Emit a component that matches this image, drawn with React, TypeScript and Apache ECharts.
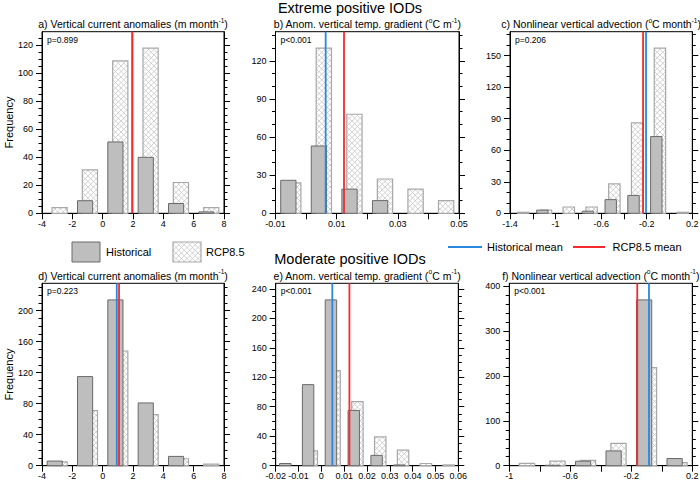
import { useEffect, useRef } from 'react';
import * as echarts from 'echarts';

// ---------------- data ----------------
const binsA = [-3, -1, 1, 3, 5, 7];
const histA = [0, 9, 51, 40, 7, 1];
const rcpA = [4, 31, 109, 118, 22, 4];
const meansA = [1.95, 1.96]; // [historical, rcp8.5]
const pA = 'p=0.899';

const binsB = [-0.005, 0.005, 0.015, 0.025, 0.035, 0.045];
const histB = [26, 53, 19, 10, 0, 0];
const rcpB = [24, 130, 78, 27, 19, 10];
const meansB = [0.0064, 0.0124];
const pB = 'p<0.001';

const binsC = [-1.3, -1.1, -0.9, -0.7, -0.5, -0.3, -0.1, 0.1];
const histC = [0, 3, 0, 2, 13, 17, 73, 0];
const rcpC = [1, 3, 6, 6, 28, 86, 157, 1];
const meansC = [-0.206, -0.232];
const pC = 'p=0.206';

const binsD = [-3, -1, 1, 3, 5, 7];
const histD = [6, 115, 214, 81, 12, 0];
const rcpD = [5, 71, 148, 66, 9, 2];
const meansD = [0.93, 1.08];
const pD = 'p=0.223';

const binsE = [-0.015, -0.005, 0.005, 0.015, 0.025, 0.035, 0.045, 0.055];
const histE = [3, 110, 225, 75, 14, 1, 0, 0];
const rcpE = [0, 20, 129, 87, 39, 21, 3, 1];
const meansE = [0.0048, 0.0123];
const pE = 'p<0.001';

const binsF = [-0.9, -0.7, -0.5, -0.3, -0.1, 0.1];
const histF = [0, 1, 10, 33, 370, 16];
const rcpF = [5, 10, 12, 50, 219, 7];
const meansF = [-0.084, -0.161];
const pF = 'p<0.001';

// axes: ranges and tick labels
const xRangeA = [-4, 8];
const xTicksA = [-4, -2, 0, 2, 4, 6, 8];
const xLabelsA = [-4, -2, 0, 2, 4, 6, 8];
const yMaxA = 129.8;
const yTicksA = [0, 20, 40, 60, 80, 100, 120];

const xRangeB = [-0.01, 0.05];
const xTicksB = [-0.01, 0, 0.01, 0.02, 0.03, 0.04, 0.05];
const xLabelsB = [-0.01, 0.01, 0.03, 0.05];
const yMaxB = 143;
const yTicksB = [0, 30, 60, 90, 120];

const xRangeC = [-1.4, 0.2];
const xTicksC = [-1.4, -1.2, -1, -0.8, -0.6, -0.4, -0.2, 0, 0.2];
const xLabelsC = [-1.4, -1, -0.6, -0.2, 0.2];
const yMaxC = 172.7;
const yTicksC = [0, 30, 60, 90, 120, 150];

const xRangeD = [-4, 8];
const xTicksD = [-4, -2, 0, 2, 4, 6, 8];
const xLabelsD = [-4, -2, 0, 2, 4, 6, 8];
const yMaxD = 235.4;
const yTicksD = [0, 40, 80, 120, 160, 200];

const xRangeE = [-0.02, 0.06];
const xTicksE = [-0.02, -0.01, 0, 0.01, 0.02, 0.03, 0.04, 0.05, 0.06];
const xLabelsE = [-0.02, -0.01, 0, 0.01, 0.02, 0.03, 0.04, 0.05, 0.06];
const yMaxE = 247.5;
const yTicksE = [0, 40, 80, 120, 160, 200, 240];

const xRangeF = [-1, 0.2];
const xTicksF = [-1, -0.8, -0.6, -0.4, -0.2, 0, 0.2];
const xLabelsF = [-1, -0.6, -0.2, 0.2];
const yMaxF = 407;
const yTicksF = [0, 100, 200, 300, 400];

const titleTop = 'Extreme positive IODs';
const titleBottom = 'Moderate positive IODs';
const subtitles = [
  'a) Vertical current anomalies (m month{sup|-1})',
  'b) Anom. vertical temp. gradient ({sup|o}C m{sup|-1})',
  'c) Nonlinear vertical advection ({sup|o}C month{sup|-1})',
  'd) Vertical current anomalies (m month{sup|-1})',
  'e) Anom. vertical temp. gradient ({sup|o}C m{sup|-1})',
  'f) Nonlinear vertical advection ({sup|o}C month{sup|-1})',
];
const yName = 'Frequency';
const legendNames = ['Historical', 'RCP8.5', 'Historical mean', 'RCP8.5 mean'];

// ---------------- styles / layout ----------------
const FONT = "'Liberation Sans', Arial, Helvetica, sans-serif";
const GRAY_FILL = '#bebebe';
const GRAY_EDGE = '#6a6a6a';
const HATCH_EDGE = '#a8a8a8';
const HATCH_LINE = '#c6c6c6';
const BLUE = '#2a87df';
const RED = '#f42b2b';
const HATCH_STEP = 5.5;
const BAR_HALF = 0.25; // fraction of bin width
const BAR_OFF = 0.08;

const layout = [
  { left: 42, top: 31.7, width: 182, height: 181.6 },
  { left: 275.5, top: 31.7, width: 183.5, height: 181.6 },
  { left: 510, top: 31.7, width: 182.3, height: 181.6 },
  { left: 42, top: 283.3, width: 182, height: 182.4 },
  { left: 275.7, top: 283.3, width: 182.6, height: 182.4 },
  { left: 509.3, top: 283.3, width: 183, height: 182.4 },
];

const panels = [
  { bins: binsA, hist: histA, rcp: rcpA, means: meansA, p: pA, xr: xRangeA, xt: xTicksA, xl: xLabelsA, yMax: yMaxA, yt: yTicksA, minor: 4 },
  { bins: binsB, hist: histB, rcp: rcpB, means: meansB, p: pB, xr: xRangeB, xt: xTicksB, xl: xLabelsB, yMax: yMaxB, yt: yTicksB, minor: 3 },
  { bins: binsC, hist: histC, rcp: rcpC, means: meansC, p: pC, xr: xRangeC, xt: xTicksC, xl: xLabelsC, yMax: yMaxC, yt: yTicksC, minor: 3 },
  { bins: binsD, hist: histD, rcp: rcpD, means: meansD, p: pD, xr: xRangeD, xt: xTicksD, xl: xLabelsD, yMax: yMaxD, yt: yTicksD, minor: 4 },
  { bins: binsE, hist: histE, rcp: rcpE, means: meansE, p: pE, xr: xRangeE, xt: xTicksE, xl: xLabelsE, yMax: yMaxE, yt: yTicksE, minor: 4 },
  { bins: binsF, hist: histF, rcp: rcpF, means: meansF, p: pF, xr: xRangeF, xt: xTicksF, xl: xLabelsF, yMax: yMaxF, yt: yTicksF, minor: 5 },
];

function hatchSegments(x0: number, y0: number, x1: number, y1: number, s: number) {
  const segs: number[][] = [];
  for (let k = Math.ceil((x0 + y0) / s) * s; k <= x1 + y1; k += s) {
    const lo = Math.max(x0, k - y1);
    const hi = Math.min(x1, k - y0);
    if (hi > lo) segs.push([lo, k - lo, hi, k - hi]);
  }
  for (let k = Math.ceil((x0 - y1) / s) * s; k <= x1 - y0; k += s) {
    const lo = Math.max(x0, k + y0);
    const hi = Math.min(x1, k + y1);
    if (hi > lo) segs.push([lo, lo - k, hi, hi - k]);
  }
  return segs;
}

function barSeries(gi: number, bins: number[], vals: number[], isHist: boolean) {
  const w = bins[1] - bins[0];
  return {
    type: 'custom',
    xAxisIndex: gi,
    yAxisIndex: gi * 2,
    silent: true,
    z: isHist ? 3 : 2,
    data: bins.map((b, i) => [b, vals[i]]),
    renderItem: (_params: any, api: any) => {
      const c = api.value(0) as number;
      const v = api.value(1) as number;
      if (!v) return { type: 'group', children: [] };
      const cc = c + (isHist ? -BAR_OFF : BAR_OFF) * w;
      const p0 = api.coord([cc - BAR_HALF * w, v]);
      const p1 = api.coord([cc + BAR_HALF * w, 0]);
      const shape = { x: p0[0], y: p0[1], width: p1[0] - p0[0], height: p1[1] - p0[1] };
      if (isHist) {
        return { type: 'rect', shape, style: { fill: GRAY_FILL, stroke: GRAY_EDGE, lineWidth: 1 } };
      }
      const segs = hatchSegments(p0[0], p0[1], p1[0], p1[1], HATCH_STEP);
      const d = segs.map((s) => `M${s[0]} ${s[1]}L${s[2]} ${s[3]}`).join('');
      const children: any[] = [{ type: 'rect', shape, style: { fill: '#ffffff' } }];
      if (d) children.push({ type: 'path', shape: { pathData: d }, style: { fill: 'none', stroke: HATCH_LINE, lineWidth: 0.8 } });
      children.push({ type: 'rect', shape, style: { fill: 'none', stroke: HATCH_EDGE, lineWidth: 1.2 } });
      return { type: 'group', children };
    },
  };
}

function meanSeries(gi: number, m: number, yMax: number, color: string, z: number) {
  return {
    type: 'line',
    xAxisIndex: gi,
    yAxisIndex: gi * 2,
    silent: true,
    symbol: 'none',
    z,
    data: [[m, 0], [m, yMax]],
    lineStyle: { color, width: 1.8 },
  };
}

function buildOption() {
  const grid: any[] = [];
  const xAxis: any[] = [];
  const yAxis: any[] = [];
  const series: any[] = [];
  const elements: any[] = [];

  panels.forEach((p, i) => {
    const L = layout[i];
    grid.push({ ...L, show: true, borderColor: '#000', borderWidth: 1, backgroundColor: 'transparent', outerBoundsMode: 'none' });
    xAxis.push({
      type: 'value', gridIndex: i, min: p.xr[0], max: p.xr[1],
      axisLine: { show: true, onZero: false, lineStyle: { color: '#000', width: 1 } },
      axisTick: { show: true, inside: false, length: 6, customValues: p.xt, lineStyle: { color: '#000', width: 1 } },
      axisLabel: { show: true, customValues: p.xl, formatter: (v: number) => String(v), fontSize: 9, color: '#000', margin: 6, fontFamily: FONT },
      splitLine: { show: false },
    });
    const step = p.yt[1] - p.yt[0];
    ['left', 'right'].forEach((pos) => {
      yAxis.push({
        type: 'value', gridIndex: i, position: pos, min: 0, max: p.yMax, interval: step,
        axisLine: { show: true, onZero: false, lineStyle: { color: '#000', width: 1 } },
        axisTick: { show: true, inside: false, length: 6, customValues: p.yt, lineStyle: { color: '#000', width: 1 } },
        minorTick: { show: true, splitNumber: p.minor, length: 3.5, lineStyle: { color: '#000', width: 1 } },
        axisLabel: { show: pos === 'left', customValues: p.yt, fontSize: 9, color: '#000', margin: 9, fontFamily: FONT },
        splitLine: { show: false },
        minorSplitLine: { show: false },
      });
    });
    series.push(barSeries(i, p.bins, p.rcp, false));
    series.push(barSeries(i, p.bins, p.hist, true));
    series.push(meanSeries(i, p.means[0], p.yMax, BLUE, 5));
    series.push(meanSeries(i, p.means[1], p.yMax, RED, 6));

    elements.push({
      type: 'text', x: L.left + L.width / 2, y: i < 3 ? 24 : 275.5,
      style: {
        text: subtitles[i], align: 'center', verticalAlign: 'middle', textAlign: 'center',
        fontSize: 10.5, fontFamily: FONT, fill: '#000', lineHeight: 15,
        rich: { sup: { fontSize: 6.5, fontFamily: FONT, fill: '#000', verticalAlign: 'top', lineHeight: 8 } },
      },
    });
    elements.push({
      type: 'text', x: L.left + 5, y: L.top + 8,
      style: { text: p.p, align: 'left', verticalAlign: 'middle', fontSize: 8.5, fontFamily: FONT, fill: '#000' },
    });
  });

  elements.push({ type: 'text', x: 350, y: 7.5, style: { text: titleTop, align: 'center', verticalAlign: 'middle', fontSize: 14.5, fontFamily: FONT, fill: '#000' } });
  elements.push({ type: 'text', x: 350, y: 258.5, style: { text: titleBottom, align: 'center', verticalAlign: 'middle', fontSize: 14.5, fontFamily: FONT, fill: '#000' } });
  [122.5, 374.5].forEach((cy) => {
    elements.push({ type: 'text', x: 9, y: cy, rotation: Math.PI / 2, style: { text: yName, align: 'center', verticalAlign: 'middle', fontSize: 11, fontFamily: FONT, fill: '#000' } });
  });

  // legend
  elements.push({ type: 'rect', shape: { x: 72, y: 242, width: 28, height: 20 }, style: { fill: GRAY_FILL, stroke: GRAY_EDGE, lineWidth: 1 } });
  elements.push({ type: 'text', x: 106, y: 252, style: { text: legendNames[0], align: 'left', verticalAlign: 'middle', fontSize: 11, fontFamily: FONT, fill: '#000' } });
  elements.push({ type: 'rect', shape: { x: 173, y: 242, width: 28, height: 20 }, style: { fill: '#fff' } });
  hatchSegments(173, 242, 201, 262, HATCH_STEP).forEach((s) => {
    elements.push({ type: 'line', shape: { x1: s[0], y1: s[1], x2: s[2], y2: s[3] }, style: { stroke: HATCH_LINE, lineWidth: 0.8 } });
  });
  elements.push({ type: 'rect', shape: { x: 173, y: 242, width: 28, height: 20 }, style: { fill: 'none', stroke: HATCH_EDGE, lineWidth: 1.2 } });
  elements.push({ type: 'text', x: 206, y: 252, style: { text: legendNames[1], align: 'left', verticalAlign: 'middle', fontSize: 11, fontFamily: FONT, fill: '#000' } });
  elements.push({ type: 'line', shape: { x1: 448, y1: 247, x2: 482, y2: 247 }, style: { stroke: BLUE, lineWidth: 2 } });
  elements.push({ type: 'text', x: 487, y: 247, style: { text: legendNames[2], align: 'left', verticalAlign: 'middle', fontSize: 11, fontFamily: FONT, fill: '#000' } });
  elements.push({ type: 'line', shape: { x1: 573, y1: 247, x2: 605, y2: 247 }, style: { stroke: RED, lineWidth: 2 } });
  elements.push({ type: 'text', x: 612.5, y: 247, style: { text: legendNames[3], align: 'left', verticalAlign: 'middle', fontSize: 11, fontFamily: FONT, fill: '#000' } });

  return {
    animation: false,
    backgroundColor: '#ffffff',
    grid, xAxis, yAxis, series,
    graphic: { elements },
  };
}

export default function App() {
  const ref = useRef<HTMLDivElement>(null);
  useEffect(() => {
    document.body.style.margin = '0';
    const chart = echarts.init(ref.current!, undefined, { renderer: 'svg' });
    chart.setOption(buildOption() as any);
    return () => chart.dispose();
  }, []);
  return <div ref={ref} style={{ position: 'absolute', left: 0, top: 0, width: 700, height: 484 }} />;
}
